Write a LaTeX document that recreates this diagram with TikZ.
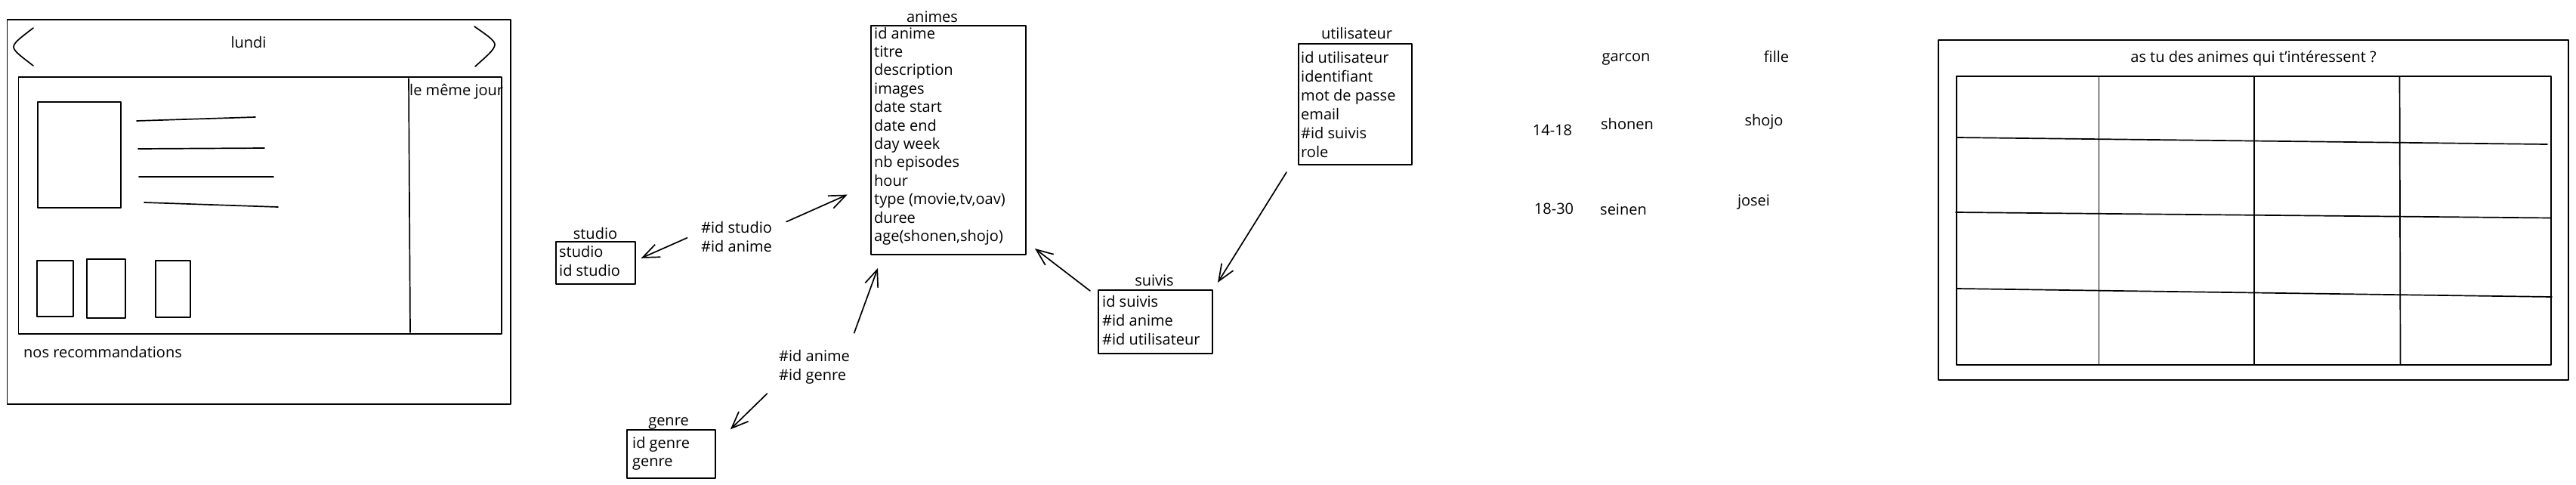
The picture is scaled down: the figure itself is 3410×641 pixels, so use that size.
\documentclass[tikz,border=0pt]{standalone}
\usepackage{fontspec}
\setmainfont{Open Sans}
\usetikzlibrary{arrows.meta}
\begin{document}
\begin{tikzpicture}[x=1pt,y=-1pt,
  sk/.style={line width=1.7pt, line cap=round, line join=round},
  tbox/.style={sk, draw, rectangle, inner sep=0pt, anchor=north west},
  txt/.style={font=\fontsize{20}{24}\selectfont, inner sep=0pt},
  arr/.style={sk, -{Straight Barb[length=22pt,width=18pt]}},
]
\fill[white] (0,0) rectangle (3410,641);
\useasboundingbox (0,0) rectangle (3410,641);

% ---------- left mockup ----------
\draw[sk] (9.5,26) rectangle (676,535);
\draw[sk] (44,37) .. controls (30,48) and (18,56) .. (18,62) .. controls (18,68) and (30,76) .. (44,87);
\draw[sk] (628,35) .. controls (642,45) and (655,53) .. (655,59) .. controls (655,66) and (642,76) .. (629,88);
\node[txt, anchor=base] (lundi) at (329,63) {lundi};
\draw[sk] (24.5,102) rectangle (664,442);
\draw[sk] (541,104) -- (543,440);
\node[txt, anchor=base west] (meme) at (542,126) {le même jour};
\draw[sk] (50,135) rectangle (160,275);
\draw[sk] (181,160) -- (338,155);
\draw[sk] (183,197) -- (350,196);
\draw[sk] (184,234) -- (362,234);
\draw[sk] (191,268) -- (368,274);
\draw[sk] (49,345) rectangle (97,419);
\draw[sk] (115,343) rectangle (166,421);
\draw[sk] (206,345) rectangle (252,420);
\node[txt, anchor=base west] (reco) at (31,473) {nos recommandations};

% ---------- tables ----------
% studio
\node[tbox, minimum width=105pt, minimum height=56pt] (studio) at (735,319) {};
\node[txt, anchor=base] (studiot) at (788,316) {studio};
\foreach \t [count=\i] in {studio, id studio}
  \node[txt, anchor=base west] (st\i) at (740,{340+25*(\i-1)}) {\t};

% genre
\node[tbox, minimum width=117pt, minimum height=64pt] (genre) at (829,568) {};
\node[txt, anchor=base] (genret) at (885,563) {genre};
\foreach \t [count=\i] in {id genre, genre}
  \node[txt, anchor=base west] (ge\i) at (837,{593+24.5*(\i-1)}) {\t};

% animes
\node[tbox, minimum width=205pt, minimum height=303pt] (animes) at (1152,33) {};
\node[txt, anchor=base] (animest) at (1234,29) {animes};
\foreach \t [count=\i] in {id anime, titre, description, images, date start, date end, day week, nb episodes, hour, {type (movie,tv,oav)}, duree, {age(shonen,shojo)}}
  \node[txt, anchor=base west] (an\i) at (1157,{51+24.4*(\i-1)}) {\t};

% utilisateur
\node[tbox, minimum width=150pt, minimum height=160pt] (util) at (1718,57) {};
\node[txt, anchor=base] (utilt) at (1796,51) {utilisateur};
\foreach \t [count=\i] in {id utilisateur, identifiant, mot de passe, email, \#id suivis, role}
  \node[txt, anchor=base west] (ut\i) at (1722,{83+25.1*(\i-1)}) {\t};

% suivis
\node[tbox, minimum width=151pt, minimum height=84pt] (suivis) at (1453,383) {};
\node[txt, anchor=base] (suivist) at (1528,378) {suivis};
\foreach \t [count=\i] in {id suivis, \#id anime, \#id utilisateur}
  \node[txt, anchor=base west] (su\i) at (1459,{406+25*(\i-1)}) {\t};

% labels
\node[txt, anchor=base west] (ls1) at (928,308) {\#id studio};
\node[txt, anchor=base west] (ls2) at (928,333) {\#id anime};
\node[txt, anchor=base west] (lg1) at (1031,478) {\#id anime};
\node[txt, anchor=base west] (lg2) at (1031,503) {\#id genre};

% arrows
\coordinate (sa1) at (909.7,314.8); \coordinate (sa2) at (848.6,341.8);
\coordinate (aa1) at (1041,293.5);  \coordinate (aa2) at (1121.8,257.6);
\coordinate (ga1) at (1130.7,440.7); \coordinate (ga2) at (1162,354.9);
\coordinate (gg1) at (1015.5,521);  \coordinate (gg2) at (966.9,568.3);
\coordinate (sv1) at (1443,385);    \coordinate (sv2) at (1370,329);
\coordinate (us1) at (1703,228);    \coordinate (us2) at (1612,374);
\draw[arr] (sa1) -- (sa2);
\draw[arr] (aa1) -- (aa2);
\draw[arr] (ga1) -- (ga2);
\draw[arr] (gg1) -- (gg2);
\draw[arr] (sv1) -- (sv2);
\draw[arr] (us1) -- (us2);

% ---------- categories ----------
\node[txt] (garcon) at (2152.5,78) {garcon};
\node[txt] (fille) at (2351.5,75) {fille};
\node[txt] (a1418) at (2055,172) {14-18};
\node[txt] (shonen) at (2154,164) {shonen};
\node[txt] (shojo) at (2335,161) {shojo};
\node[txt] (a1830) at (2057,276) {18-30};
\node[txt] (seinen) at (2149,277) {seinen};
\node[txt] (josei) at (2321.5,268) {josei};

% ---------- right mockup ----------
\draw[sk] (2566,53) rectangle (3400,503);
\node[txt, anchor=base] (question) at (2983,82) {as tu des animes qui t'intéressent ?};
\draw[sk] (2590,101) rectangle (3377,483);
\draw[sk] (2778.6,101) -- (2778.6,483);
\draw[sk] (2984,101) -- (2984,483);
\draw[sk] (3176.5,101) -- (3177.5,483);
\draw[sk] (2591,182) -- (3372,191);
\draw[sk] (2589,281) -- (3377,288.5);
\draw[sk] (2590,382) -- (3378,393);
\end{tikzpicture}
\end{document}
